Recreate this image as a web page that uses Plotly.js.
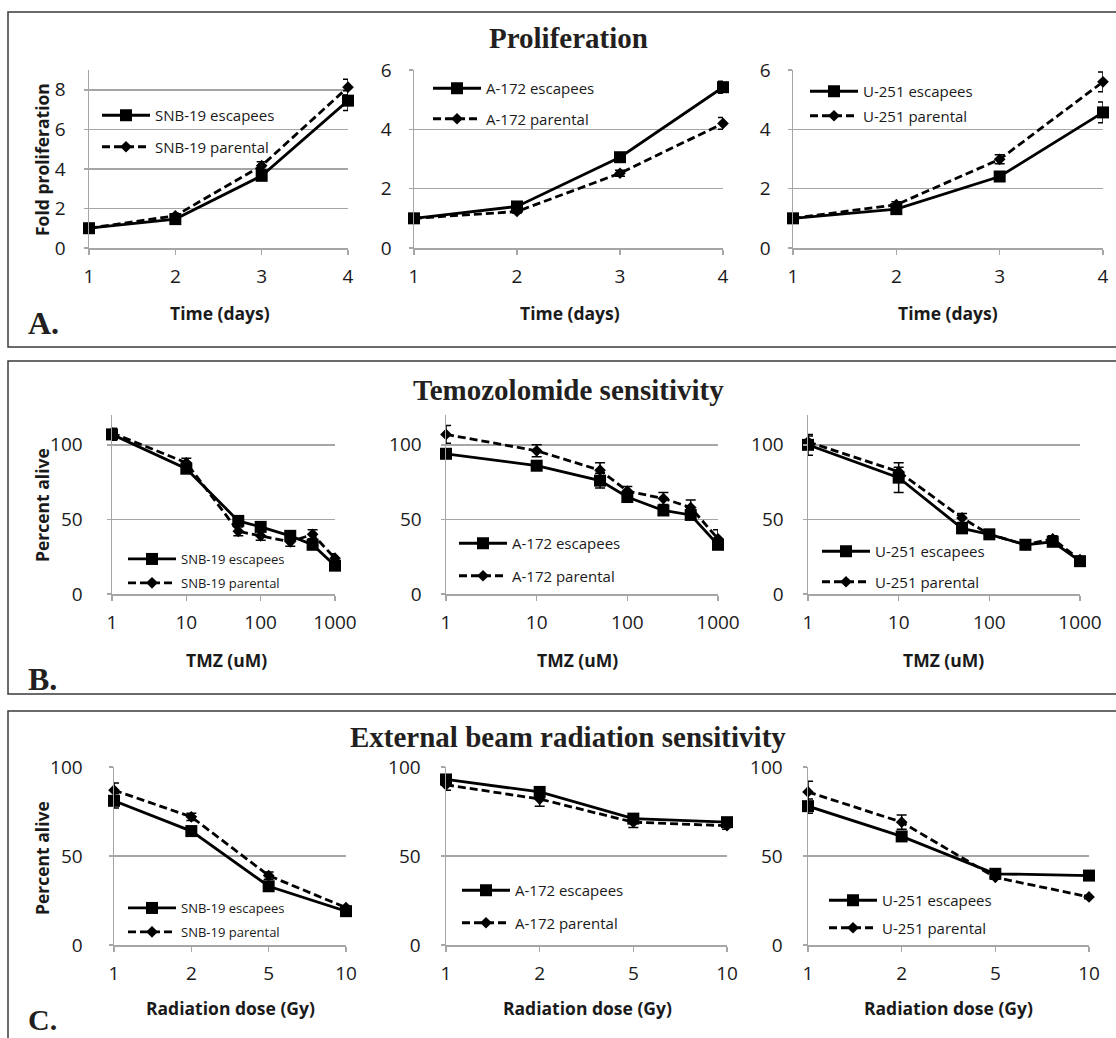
<!DOCTYPE html>
<html>
<head>
<meta charset="utf-8">
<script src="https://cdn.plot.ly/plotly-3.0.1.min.js"></script>
<style>
  html, body { margin: 0; padding: 0; background: #ffffff; }
  #chart { width: 1116px; height: 1038px; }
</style>
</head>
<body>
<div id="chart"></div>
<script>
// ---------------- DATA ----------------
const rowTitles = ["Proliferation", "Temozolomide sensitivity", "External beam radiation sensitivity"];
const rowLetters = ["A.", "B.", "C."];
const cellLines = ["SNB-19", "A-172", "U-251"];

// Row A: proliferation
const daysX = [1, 2, 3, 4];
const snbEscProlif = [1.0, 1.46, 3.65, 7.45];
const snbEscProlifErr = [0.05, 0.1, 0.2, 0.5];
const snbParProlif = [1.0, 1.63, 4.16, 8.13];
const snbParProlifErr = [0.05, 0.1, 0.2, 0.4];
const a172EscProlif = [1.0, 1.4, 3.06, 5.42];
const a172EscProlifErr = [0.05, 0.1, 0.1, 0.2];
const a172ParProlif = [1.0, 1.23, 2.52, 4.2];
const a172ParProlifErr = [0.05, 0.05, 0.1, 0.2];
const u251EscProlif = [1.0, 1.31, 2.41, 4.57];
const u251EscProlifErr = [0.05, 0.1, 0.1, 0.35];
const u251ParProlif = [1.0, 1.46, 2.99, 5.6];
const u251ParProlifErr = [0.05, 0.1, 0.15, 0.33];

// Row B: temozolomide
const tmzX = [1, 10, 50, 100, 250, 500, 1000];
const snbEscTmz = [107, 84, 49, 45, 39, 33, 19];
const snbEscTmzErr = [4, 3, 3, 3, 2, 3, 3];
const snbParTmz = [108, 88, 42, 39, 35, 40, 24];
const snbParTmzErr = [3, 3, 3, 3, 3, 3, 3];
const a172EscTmz = [94, 86, 76, 65, 56, 53, 33];
const a172EscTmzErr = [2, 2, 5, 2, 2, 2, 2];
const a172ParTmz = [107, 96, 83, 69, 64, 58, 37];
const a172ParTmzErr = [6, 4, 5, 3, 4, 5, 6];
const u251EscTmz = [100, 78, 44, 40, 33, 35, 22];
const u251EscTmzErr = [7, 10, 3, 2, 2, 2, 1];
const u251ParTmz = [102, 82, 51, 40, 33, 37, 23];
const u251ParTmzErr = [4, 3, 3, 2, 2, 2, 1];

// Row C: radiation
const doseX = ["1", "2", "5", "10"];
const snbEscRad = [81, 64, 33, 19];
const snbEscRadErr = [4, 2, 2, 2];
const snbParRad = [87, 72, 39, 21];
const snbParRadErr = [4, 2, 2, 1];
const a172EscRad = [93, 86, 71, 69];
const a172EscRadErr = [2, 2, 2, 2];
const a172ParRad = [90, 82, 69, 67];
const a172ParRadErr = [3, 4, 3, 2];
const u251EscRad = [78, 61, 40, 39];
const u251EscRadErr = [4, 2, 1, 1];
const u251ParRad = [86, 69, 38, 27];
const u251ParRadErr = [6, 4, 1, 1];

// ---------------- LAYOUT HELPERS ----------------
const W = 1116, H = 1038;
const fx = px => px / W;
const fy = py => 1 - py / H;
const SANS = "Open Sans, Liberation Sans, sans-serif";
const SERIF = "Liberation Serif, Times New Roman, serif";
const GRID = "#a6a6a6";
const INK = "#1a1a1a";

// panel pixel geometry [x0, x1, yTop, yBottom]
const panels = [
  [89, 348, 70, 248], [414, 723, 70, 248], [793, 1103, 70, 248],
  [112, 335, 415, 594], [446, 718, 415, 594], [808, 1080, 415, 594],
  [114, 346, 767, 945], [446, 727, 767, 945], [808, 1089, 767, 945]
];
const yRanges = [[0, 9], [0, 6], [0, 6], [0, 120], [0, 120], [0, 120], [0, 100], [0, 100], [0, 100]];
const yDticks = [2, 2, 2, 50, 50, 50, 50, 50, 50];
const yStandoff = [14, 13, 13, 20, 15, 15, 22, 16, 16];

// legend geometry: [text start x, first item center y, spacing, font size]
const legendGeom = [
  [157, 113, 33, 15], [488, 86, 32, 15], [865, 89, 26, 15],
  [183, 558, 24, 13], [514, 541, 34, 15], [877, 549, 32, 15],
  [183, 907, 24, 13], [517, 888, 34, 15], [884, 898, 29, 15]
];

const seriesByPanel = [
  [daysX, snbEscProlif, snbEscProlifErr, snbParProlif, snbParProlifErr, 0],
  [daysX, a172EscProlif, a172EscProlifErr, a172ParProlif, a172ParProlifErr, 1],
  [daysX, u251EscProlif, u251EscProlifErr, u251ParProlif, u251ParProlifErr, 2],
  [tmzX, snbEscTmz, snbEscTmzErr, snbParTmz, snbParTmzErr, 0],
  [tmzX, a172EscTmz, a172EscTmzErr, a172ParTmz, a172ParTmzErr, 1],
  [tmzX, u251EscTmz, u251EscTmzErr, u251ParTmz, u251ParTmzErr, 2],
  [doseX, snbEscRad, snbEscRadErr, snbParRad, snbParRadErr, 0],
  [doseX, a172EscRad, a172EscRadErr, a172ParRad, a172ParRadErr, 1],
  [doseX, u251EscRad, u251EscRadErr, u251ParRad, u251ParRadErr, 2]
];

const traces = [];
const layout = {
  width: W, height: H,
  margin: {l: 0, r: 0, t: 0, b: 0},
  paper_bgcolor: "#ffffff", plot_bgcolor: "rgba(0,0,0,0)",
  font: {family: SANS, color: INK},
  annotations: [], shapes: []
};

seriesByPanel.forEach((s, i) => {
  const n = i + 1;
  const sfx = n === 1 ? "" : String(n);
  const legName = n === 1 ? "legend" : "legend" + n;
  const [xs, esc, escErr, par, parErr, li] = s;
  const line = cellLines[li];
  const errStyle = arr => ({type: "data", array: arr, visible: true, color: "#000", thickness: 1.5, width: 5});
  traces.push({
    x: xs, y: esc, xaxis: "x" + sfx, yaxis: "y" + sfx,
    type: "scatter", mode: "lines+markers", name: line + " escapees",
    legend: legName, legendgroup: "e" + n,
    line: {color: "#000", width: 2.8},
    marker: {symbol: "square", size: 12, color: "#000"},
    error_y: errStyle(escErr), cliponaxis: false
  });
  traces.push({
    x: xs, y: par, xaxis: "x" + sfx, yaxis: "y" + sfx,
    type: "scatter", mode: "lines+markers", name: line + " parental",
    legend: legName, legendgroup: "p" + n,
    line: {color: "#000", width: 2.8, dash: "8px,4px"},
    marker: {symbol: "diamond", size: 9, color: "#000"},
    error_y: errStyle(parErr), cliponaxis: false
  });

  const [x0, x1, yT, yB] = panels[i];
  const row = Math.floor(i / 3);
  const xa = {
    domain: [fx(x0), fx(x1)], anchor: "y" + sfx,
    showgrid: false, zeroline: false,
    showline: true, linecolor: GRID, linewidth: 1.5,
    ticks: "outside", ticklen: 5, tickcolor: GRID, tickwidth: 1.5,
    tickfont: {family: SANS, size: 19, color: INK},
    ticklabelstandoff: 6, fixedrange: true
  };
  if (row === 0) { xa.type = "linear"; xa.range = [1, 4]; xa.dtick = 1; }
  else if (row === 1) { xa.type = "log"; xa.range = [0, 3]; xa.dtick = 1; }
  else { xa.type = "category"; xa.range = [0, 3]; }
  const ya = {
    domain: [fy(yB), fy(yT)], anchor: "x" + sfx,
    range: yRanges[i], dtick: yDticks[i],
    showgrid: true, gridcolor: GRID, gridwidth: 1.5,
    zeroline: false, showline: true, linecolor: GRID, linewidth: 1.5,
    ticks: "outside", ticklen: 4, tickcolor: GRID, tickwidth: 1.5,
    tickfont: {family: SANS, size: 19, color: INK},
    ticklabelstandoff: yStandoff[i], fixedrange: true
  };
  layout["xaxis" + sfx] = xa;
  layout["yaxis" + sfx] = ya;

  const [tx, cy, sp, fs] = legendGeom[i];
  const itemW = 48;
  layout[legName] = {
    x: fx(tx - itemW - 12), xanchor: "left",
    y: fy(cy - 14), yanchor: "top",
    bgcolor: "rgba(0,0,0,0)", borderwidth: 0,
    font: {family: SANS, size: fs, color: INK},
    itemwidth: itemW,
    tracegroupgap: Math.max(0, sp - (fs + (fs >= 15 ? 9 : 7))),
    traceorder: "grouped"
  };
});

// x-axis titles
const xTitles = [
  ["Time (days)", [220, 570, 948], 313],
  ["TMZ (uM)", [226, 577, 943], 660],
  ["Radiation dose (Gy)", [230, 587, 948], 1008]
];
xTitles.forEach(([t, xs, y]) => xs.forEach(x => layout.annotations.push({
  text: "<b>" + t + "</b>", xref: "paper", yref: "paper", x: fx(x), y: fy(y),
  xanchor: "center", yanchor: "middle", showarrow: false,
  font: {family: SANS, size: 17.5, color: INK}
})));
// y-axis titles
[["Fold proliferation", 160], ["Percent alive", 505], ["Percent alive", 858]].forEach(([t, y]) =>
  layout.annotations.push({
    text: "<b>" + t + "</b>", xref: "paper", yref: "paper", x: fx(42), y: fy(y),
    xanchor: "center", yanchor: "middle", showarrow: false, textangle: -90,
    font: {family: SANS, size: 17.5, color: INK}
  }));
// row titles
[[38, 0], [390, 1], [737, 2]].forEach(([y, k]) => layout.annotations.push({
  text: "<b>" + rowTitles[k] + "</b>", xref: "paper", yref: "paper", x: fx(568), y: fy(y),
  xanchor: "center", yanchor: "middle", showarrow: false,
  font: {family: SERIF, size: 29, color: "#231f20"}
}));
// row letters
[[323, 0, 32], [679, 1, 32], [1019, 2, 30]].forEach(([y, k, sz]) => layout.annotations.push({
  text: "<b>" + rowLetters[k] + "</b>", xref: "paper", yref: "paper", x: fx(26), y: fy(y),
  xanchor: "left", yanchor: "middle", showarrow: false,
  font: {family: SERIF, size: sz, color: "#231f20"}
}));
// row frames
[[12, 347], [361, 694], [711, 1050]].forEach(([t, b]) => layout.shapes.push({
  type: "rect", xref: "paper", yref: "paper",
  x0: fx(8), x1: fx(1122), y0: fy(b), y1: fy(t),
  line: {color: "#3a3a3a", width: 1.5}, fillcolor: "rgba(0,0,0,0)"
}));

Plotly.newPlot("chart", traces, layout, {staticPlot: true, displayModeBar: false});
</script>
</body>
</html>
